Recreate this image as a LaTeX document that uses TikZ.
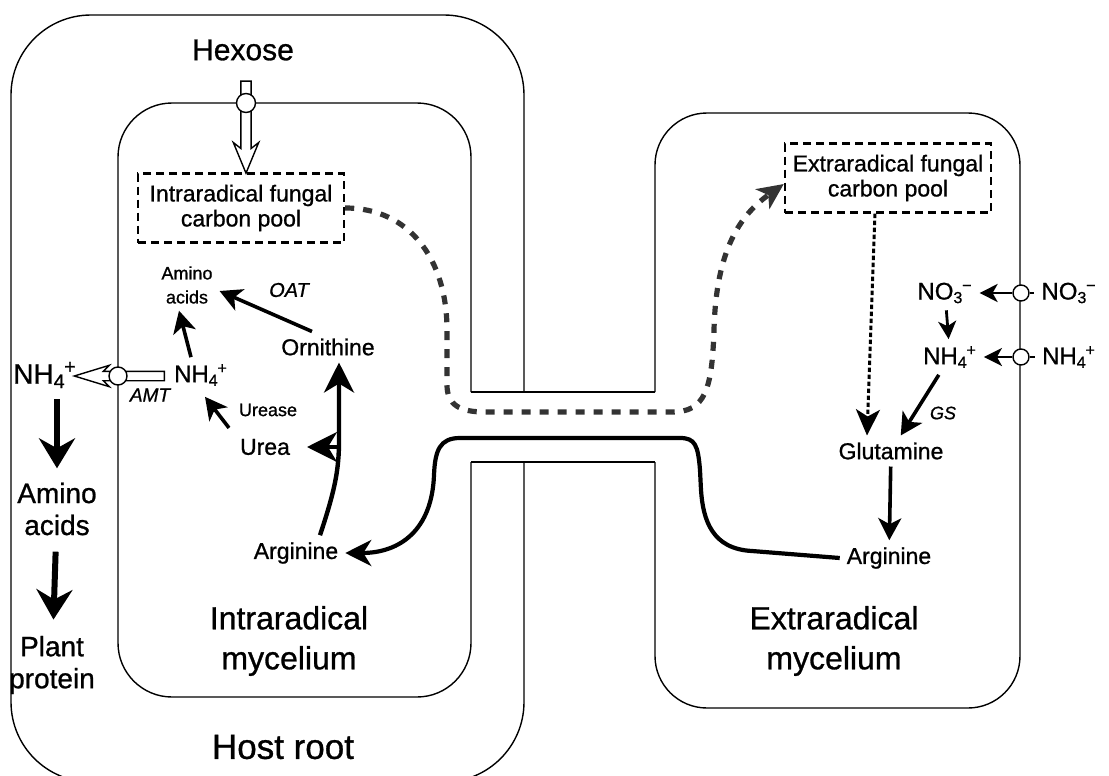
\documentclass[tikz,border=0pt]{standalone}
\usepackage{fontspec}
\setmainfont{Liberation Sans}[FakeBold=0.9]
\usetikzlibrary{arrows.meta,shapes.arrows}

\newcommand{\ammon}{NH\textsubscript{4}\kern-0.05em\textsuperscript{+}}
\newcommand{\nitrate}{NO\textsubscript{3}\kern-0.05em\textsuperscript{−}}

\begin{document}
\begin{tikzpicture}[x=0.5pt,y=-0.5pt,
    wall/.style={line width=0.7pt},
    pool/.style={draw, line width=1.2pt, dash pattern=on 4pt off 2.5pt, minimum width=103pt, minimum height=34.5pt, align=center, font=\fontsize{11.5}{12.5}\selectfont},
    region/.style={font=\fontsize{16}{20}\selectfont, align=center},
    plantlbl/.style={font=\fontsize{14}{16}\selectfont, align=center, inner sep=2pt},
    met/.style={font=\fontsize{11.5}{13}\selectfont},
    ion/.style={font=\fontsize{12}{14}\selectfont},
    minor/.style={font=\fontsize{9}{12}\selectfont, align=center},
    enz/.style={font=\fontsize{10}{12}\selectfont\itshape},
    pore/.style={circle, draw, fill=white, line width=0.7pt, minimum size=8pt, inner sep=0pt},
    hollow/.style={single arrow, draw, fill=white, line width=0.7pt, inner sep=2.2pt, single arrow head extend=3.8pt, single arrow tip angle=45, single arrow head indent=3pt},
    fat/.style={line width=3pt, -{Stealth[length=15pt,width=18pt,inset=5pt]}},
    flow/.style={line width=2.2pt, -{Stealth[length=15pt,width=15pt,inset=4.5pt]}},
    react/.style={line width=1.8pt, -{Stealth[length=11pt,width=11.5pt,inset=3pt]}},
    uptake/.style={line width=1.4pt, -{Stealth[length=9pt,width=9pt,inset=2.5pt]}},
    carbon/.style={line width=2.6pt, draw=black!80, dash pattern=on 4.5pt off 4.5pt, -{Stealth[length=13pt,width=12pt,inset=3.5pt]}},
    dotline/.style={line width=1.5pt, dash pattern=on 2.2pt off 1.3pt, -{Stealth[length=13pt,width=12pt,inset=3.5pt]}},
    argflow/.style={line width=2.1pt, -{Stealth[length=13pt,width=13pt,inset=4pt]}}]
\useasboundingbox (0,0) rectangle (1109,776);

% host root, intraradical and extraradical mycelium
\draw[wall, rounded corners=40pt] (524,392) -- (524,15) -- (11,15) -- (11,782) -- (524,782) -- (524,462);
\draw[wall, rounded corners=27pt] (471,392) -- (471,103) -- (118,103) -- (118,697) -- (471,697) -- (471,462);
\draw[wall, rounded corners=26pt] (655,392) -- (655,113) -- (1020,113) -- (1020,708) -- (655,708) -- (655,462);
\draw[wall] (471,392) -- (655,392) (471,462) -- (655,462);

\node[font=\fontsize{15}{18}\selectfont] (hexose) at (243,50) {Hexose};
\node[hollow, rotate=-90, minimum height=46pt, minimum width=12pt] (hexarrow) at (246,121) {};
\node[pore, minimum size=9.5pt] (hexpore) at (246,103) {};
\node[pool] (intpool) at (241,208) {Intraradical fungal\\carbon pool};
\node[pool] (extpool) at (888,178) {Extraradical fungal\\carbon pool};

\node[font=\fontsize{14}{16}\selectfont] (nhout) at (45,375) {\ammon};
\node[plantlbl] (aaplant) at (57,509) {Amino\\acids};
\node[plantlbl] (protein) at (52,665) {Plant\\protein};
\draw[fat, shorten <=2pt, shorten >=5pt] (aaplant.north |- nhout.south) -- (aaplant.north);
\draw[fat, shorten <=6pt, shorten >=6pt] (aaplant) -- (protein);

\node[minor] (aa) at (187,285) {Amino\\acids};
\node[enz] (oat) at (289,290) {OAT};
\node[met] (orn) at (328,347) {Ornithine};
\node[ion] (nhin) at (201,375) {\ammon};
\node[enz, font=\fontsize{9.5}{11}\selectfont\itshape] (amt) at (150,395) {AMT};
\node[minor] (urease) at (268,410) {Urease};
\node[met] (urea) at (265,447) {Urea};
\node[met] (argin) at (296,553) {Arginine};
\node[region] (intmyc) at (289,641) {Intraradical\\mycelium};
\node[font=\fontsize{17.5}{20}\selectfont] (hostroot) at (283,747) {Host root};

\node[hollow, rotate=180, minimum height=45pt, minimum width=10pt, inner sep=2pt, single arrow head extend=3pt, single arrow tip angle=34] (amtarrow) at (127,376) {};
\node[pore, minimum size=9pt] (amtpore) at (118,376) {};

\draw[react] ([xshift=-8pt]orn.north) -- ([yshift=-3pt]aa.east);
\draw[react] ([xshift=-5pt]nhin.north) -- ([xshift=-4pt]aa.south);
\draw[react] ([xshift=-2pt,yshift=2pt]urea.north west) -- ([xshift=2pt,yshift=-2pt]nhin.south);
\draw[flow] ([xshift=12pt]argin.north) .. controls (335,490) and (339,470) .. (339,440) -- ([xshift=5.5pt]orn.south);
\coordinate (ornbranch) at (339,447);
\draw[flow, shorten >=5pt] (ornbranch) -- (urea.east);

\node[ion] (no3in) at (945,293) {\nitrate};
\node[ion] (no3out) at (1069,293) {\nitrate};
\node[ion] (nh4inr) at (950,357) {\ammon};
\node[ion] (nh4outr) at (1069,357) {\ammon};
\node[pore] (no3pore) at (1021,293) {};
\node[pore] (nhpore) at (1021,357) {};
\draw[uptake] (no3pore) -- (no3in);
\draw[line width=1.4pt] (no3pore) -- (no3out);
\draw[uptake] (nhpore) -- (nh4inr);
\draw[line width=1.4pt] (nhpore) -- (nh4outr);
\draw[uptake] (no3in) -- (nh4inr);

\node[enz, font=\fontsize{9}{11}\selectfont\itshape] (gs) at (943,413) {GS};
\node[met] (gln) at (891,451) {Glutamine};
\node[met] (argex) at (889,558) {Arginine};
\node[region] (extmyc) at (834,641) {Extraradical\\mycelium};
\draw[react] (nh4inr) -- (gln);
\draw[dotline] ([xshift=-6.5pt]extpool.south) -- ([xshift=-12pt]gln.north);
\draw[react] (gln) -- (argex);

\draw[argflow] (argex.west) -- (752,551) .. controls (712,549) and (703,520) .. (701,490) -- (700,470) .. controls (698,445) and (695,438) .. (680,438) -- (460,438) .. controls (440,438) and (435,450) .. (434,475) .. controls (432,530) and (400,553) .. (argin.east);
\draw[carbon] (intpool.east) .. controls (410,208) and (447,260) .. (447,330) -- (447,385) .. controls (447,405) and (460,412) .. (485,412) -- (672,412) .. controls (705,412) and (712,390) .. (714,330) .. controls (716,250) and (740,215) .. ([yshift=-3pt]extpool.west);
\end{tikzpicture}
\end{document}
